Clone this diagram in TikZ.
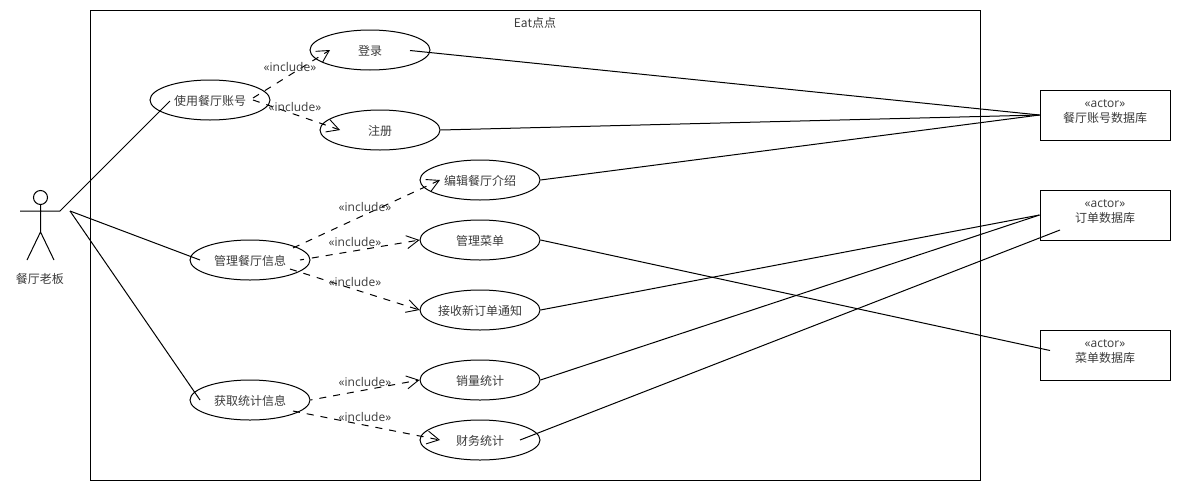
\documentclass[tikz,border=0pt]{standalone}
\usepackage{fontspec}
\setmainfont{Noto Sans CJK SC}
\newfontfamily\latinfont{Open Sans}
\usetikzlibrary{shapes.geometric,arrows.meta}
\definecolor{inktext}{HTML}{3A3A3A}
\newcommand\uctext[1]{\raisebox{-1pt}[\height][\depth]{#1}}
\tikzset{
  usecase/.style={draw=black,ellipse,minimum width=120pt,minimum height=40pt,inner sep=0pt,font=\fontsize{12}{15}\selectfont,text=inktext},
  dbbox/.style={draw=black,rectangle,minimum width=130pt,minimum height=50pt,inner sep=0pt},
  dbtext/.style={align=center,font=\fontsize{12}{15}\selectfont,text=inktext,inner sep=0pt},
  frame/.style={draw=black,rectangle,minimum width=890pt,minimum height=470pt,inner sep=0pt},
  incl/.style={font=\latinfont\fontsize{12}{15}\selectfont,text=inktext,inner sep=0pt},
  plain/.style={font=\fontsize{12}{15}\selectfont,text=inktext,inner sep=0pt},
  assoc/.style={draw=black},
  dep/.style={draw=black,dash pattern=on 7pt off 7pt,-{Straight Barb[length=12pt,width=13pt,line width=.9pt]}},
}
\begin{document}
\begin{tikzpicture}[x=1pt,y=-1pt,line width=1pt,line cap=butt]
\useasboundingbox (0,0) rectangle (1180,490);
\node[frame] (sys) at (535,245) {};
\node[plain] (systitle) at (535,23) {Eat点点};
% actor
\node[draw=black,circle,minimum size=14pt,inner sep=0pt] (head) at (40.5,197.5) {};
\coordinate (hip) at (40.5,232);
\coordinate (armL) at (20,211);
\coordinate (armR) at (60,211);
\coordinate (footL) at (27,260);
\coordinate (footR) at (54,260);
\coordinate (hand) at (70,211);
\draw (head.south) -- (hip) (armL) -- (armR) (footL) -- (hip) -- (footR);
\node[plain] (boss) at (40,278.5) {餐厅老板};
% use cases
\node[usecase] (acct) at (210,100) {\uctext{使用餐厅账号}};
\node[usecase] (login) at (370,50) {\uctext{登录}};
\node[usecase] (reg) at (380,130) {\uctext{注册}};
\node[usecase] (edit) at (480,180) {\uctext{编辑餐厅介绍}};
\node[usecase] (menu) at (480,240) {\uctext{管理菜单}};
\node[usecase] (notify) at (480,310) {\uctext{接收新订单通知}};
\node[usecase] (manage) at (250,260) {\uctext{管理餐厅信息}};
\node[usecase] (stats) at (250,400) {\uctext{获取统计信息}};
\node[usecase] (sales) at (480,380) {\uctext{销量统计}};
\node[usecase] (fin) at (480,440) {\uctext{财务统计}};
% databases
\node[dbbox] (dba) at (1105,115) {};
\node[dbbox] (dbo) at (1105,215) {};
\node[dbbox] (dbm) at (1105,355) {};
\node[dbtext] (dbat) at ([shift={(0,-3)}]dba.center) {{\latinfont «actor»}\\餐厅账号数据库};
\node[dbtext] (dbot) at ([shift={(0,-3)}]dbo.center) {{\latinfont «actor»}\\订单数据库};
\node[dbtext] (dbmt) at ([shift={(0,-3)}]dbm.center) {{\latinfont «actor»}\\菜单数据库};
% actor associations
\draw[assoc] (armR) -- ([shift={(-40,1)}]acct.center);
\draw[assoc] (hand) -- ([shift={(-50,0)}]manage.center);
\draw[assoc] (hand) -- ([shift={(-50,0)}]stats.center);
% database associations
\draw[assoc] ([shift={(40,0.5)}]login.center) -- (dba.west);
\draw[assoc] (reg.east) -- (dba.west);
\draw[assoc] (edit.east) -- (dba.west);
\draw[assoc] (menu.east) -- ([shift={(-55,-4.5)}]dbm.center);
\draw[assoc] (notify.east) -- (dbo.west);
\draw[assoc] (sales.east) -- (dbo.west);
\draw[assoc] ([shift={(40,0)}]fin.center) -- ([shift={(-45,15)}]dbo.center);
% includes
\draw[dep] ([shift={(43,-2)}]acct.center) -- ([shift={(-40,0)}]login.center);
\draw[dep] ([shift={(43,0)}]acct.center) -- ([shift={(-40,0)}]reg.center);
\draw[dep] ([shift={(43,-12)}]manage.center) -- ([shift={(-40,0)}]edit.center);
\draw[dep,dash pattern=on 4pt off 8pt on 7pt off 7pt on 7pt off 7pt on 7pt off 7pt on 7pt off 7pt on 7pt off 7pt on 7pt off 7pt on 7pt off 7pt on 7pt off 7pt] ([shift={(50,0)}]manage.center) -- (menu.west);
\draw[dep] ([shift={(40,9)}]manage.center) -- (notify.west);
\draw[dep,dash phase=5pt] (stats.east) -- (sales.west);
\draw[dep] ([shift={(43,11)}]stats.center) -- ([shift={(-40,0)}]fin.center);
\node[incl] (i1) at (290,67) {«include»};
\node[incl] (i2) at (295,107) {«include»};
\node[incl] (i3) at (365,207) {«include»};
\node[incl] (i4) at (355,242) {«include»};
\node[incl] (i5) at (355,282) {«include»};
\node[incl] (i6) at (365,382) {«include»};
\node[incl] (i7) at (365,417) {«include»};
\end{tikzpicture}
\end{document}
